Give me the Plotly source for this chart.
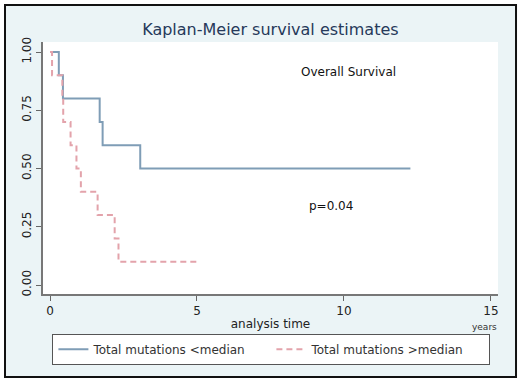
import plotly.graph_objects as go

# Kaplan-Meier step data
low_time = [0, 0.30, 0.44, 1.69, 1.79, 3.07, 12.26]
low_surv = [1.0, 0.9, 0.8, 0.7, 0.6, 0.5, 0.5]

high_time = [0, 0.07, 0.42, 0.45, 0.70, 0.90, 1.05, 1.62, 2.20, 2.33, 5.07]
high_surv = [1.0, 0.9, 0.8, 0.7, 0.6, 0.5, 0.4, 0.3, 0.2, 0.1, 0.1]

series_names = ["Total mutations <median", "Total mutations >median"]
x_ticks = [0, 5, 10, 15]
y_ticks = [0, 0.25, 0.5, 0.75, 1.0]
y_ticklabels = ["0.00", "0.25", "0.50", "0.75", "1.00"]

FONT = "DejaVu Sans"
BG = "#ebf4f6"

fig = go.Figure()
fig.add_trace(go.Scatter(x=low_time, y=low_surv, mode="lines", line_shape="hv",
                         name=series_names[0],
                         line=dict(color="#7f9db6", width=2)))
fig.add_trace(go.Scatter(x=high_time, y=high_surv, mode="lines", line_shape="hv",
                         name=series_names[1],
                         line=dict(color="#e3a3ab", width=2, dash="6px,4px")))

fig.update_layout(
    width=520, height=382,
    margin=dict(l=43, r=22, t=42, b=88, autoexpand=False),
    paper_bgcolor=BG, plot_bgcolor="white",
    font=dict(family=FONT, size=12, color="#222222"),
    title=dict(text="Kaplan-Meier survival estimates", x=0.52, xanchor="center",
               y=0.922, yanchor="middle",
               font=dict(family=FONT, size=16, color="#26395a")),
    showlegend=True,
    legend=dict(orientation="h", x=0.502, xanchor="center", y=-0.158, yanchor="top",
                bgcolor="white", bordercolor="#555555", borderwidth=1,
                entrywidth=173, entrywidthmode="pixels",
                font=dict(family=FONT, size=12, color="#333333")),
    xaxis=dict(range=[-0.238, 15.24], tickvals=x_ticks, ticks="outside", ticklen=5,
               tickcolor="#666666", showline=True, linecolor="#777777", linewidth=1.5,
               showgrid=False, zeroline=False, automargin=False,
               tickfont=dict(size=12, color="#222222"),
               title=dict(text="analysis time", standoff=2,
                          font=dict(size=12, color="#222222"))),
    yaxis=dict(range=[-0.0386, 1.043], tickvals=y_ticks, ticktext=y_ticklabels,
               ticks="outside", ticklen=5, tickcolor="#666666", tickangle=-90,
               showline=True, linecolor="#777777", linewidth=1.5,
               showgrid=False, zeroline=False, automargin=False,
               tickfont=dict(size=12, color="#222222")),
)

fig.add_annotation(x=10.14, y=0.914, xref="x", yref="y", text="Overall Survival",
                   showarrow=False, font=dict(size=12, color="#111111"))
fig.add_annotation(x=9.56, y=0.34, xref="x", yref="y", text="p=0.04",
                   showarrow=False, font=dict(size=12, color="#111111"))
fig.add_annotation(x=1.003, y=-0.13, xref="paper", yref="paper", text="years",
                   xanchor="right", yanchor="middle", showarrow=False,
                   font=dict(size=9, color="#333333"))

# white page edge and black frame
fig.add_shape(type="rect", xref="paper", yref="paper",
              x0=-0.0945, x1=1.0484, y0=-0.349, y1=1.1667,
              line=dict(color="white", width=10), fillcolor="rgba(0,0,0,0)")
fig.add_shape(type="rect", xref="paper", yref="paper",
              x0=-0.0835, x1=1.0396, y0=-0.329, y1=1.1468,
              line=dict(color="#111111", width=2), fillcolor="rgba(0,0,0,0)")

fig.write_html("out.html",
               config={"displayModeBar": False},
               post_script="document.body.style.margin='0';"
                           "document.body.style.overflow='hidden';")
